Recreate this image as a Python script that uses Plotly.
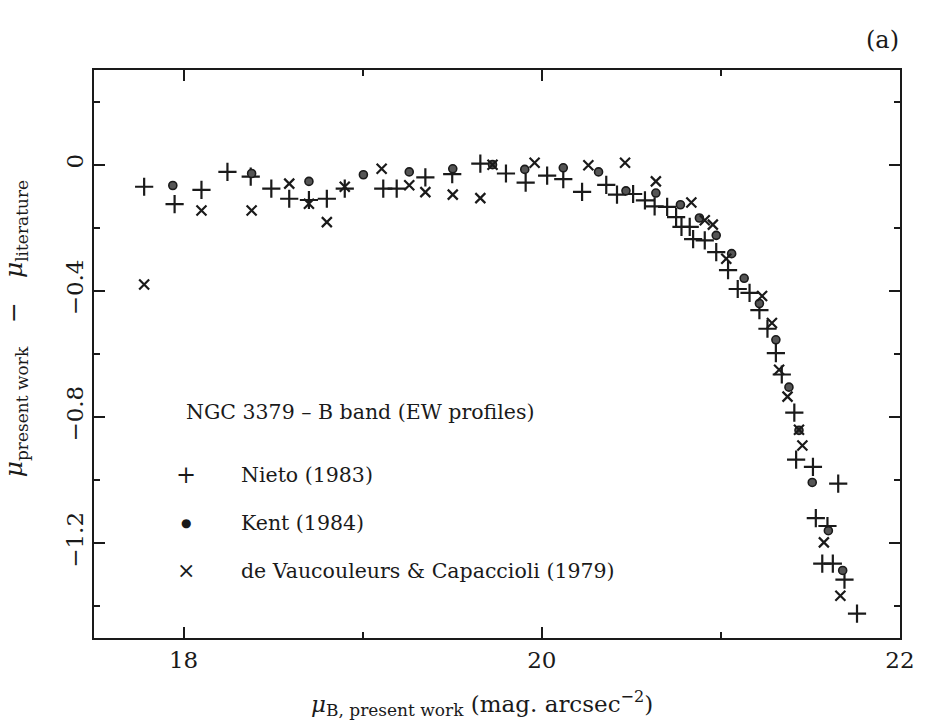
import plotly.graph_objects as go

# Nieto (1983)  "+"
nieto_x = [17.78, 17.95, 18.10, 18.245, 18.375, 18.49, 18.59, 18.70, 18.80, 18.90,
           19.115, 19.19, 19.35, 19.50, 19.657, 19.80, 19.91, 20.03, 20.12, 20.225,
           20.36, 20.42, 20.51, 20.576, 20.63, 20.70, 20.75, 20.78, 20.826, 20.845,
           20.91, 20.974, 21.04, 21.094, 21.16, 21.215, 21.26, 21.307, 21.34, 21.41,
           21.42, 21.514, 21.655, 21.53, 21.595, 21.566, 21.625, 21.69, 21.76]
nieto_y = [-0.07, -0.125, -0.08, -0.023, -0.038, -0.076, -0.108, -0.112, -0.108, -0.076,
           -0.076, -0.076, -0.04, -0.03, 0.003, -0.028, -0.057, -0.035, -0.046, -0.086,
           -0.064, -0.095, -0.093, -0.113, -0.132, -0.134, -0.166, -0.197, -0.197, -0.236,
           -0.24, -0.277, -0.334, -0.394, -0.406, -0.461, -0.52, -0.597, -0.665, -0.786,
           -0.935, -0.958, -1.011, -1.12, -1.145, -1.264, -1.264, -1.315, -1.423]

# Kent (1984)  filled circle
kent_x = [17.94, 18.38, 18.70, 19.004, 19.26, 19.503, 19.725, 19.905, 20.12, 20.317,
          20.47, 20.637, 20.774, 20.88, 20.974, 21.06, 21.13, 21.215, 21.307, 21.38,
          21.436, 21.51, 21.60, 21.68]
kent_y = [-0.066, -0.028, -0.053, -0.032, -0.023, -0.013, 0.0, -0.015, -0.01, -0.023,
          -0.083, -0.09, -0.127, -0.169, -0.224, -0.282, -0.36, -0.44, -0.555, -0.705,
          -0.842, -1.007, -1.16, -1.286]

# de Vaucouleurs & Capaccioli (1979)  "x"
dvc_x = [17.78, 18.10, 18.38, 18.59, 18.70, 18.80, 18.90, 19.106, 19.26, 19.35,
         19.503, 19.657, 19.725, 19.96, 20.26, 20.465, 20.637, 20.835, 20.91, 20.955,
         21.03, 21.23, 21.285, 21.325, 21.372, 21.436, 21.455, 21.575, 21.667]
dvc_y = [-0.38, -0.145, -0.145, -0.06, -0.124, -0.182, -0.07, -0.013, -0.065, -0.087,
         -0.095, -0.106, 0.0, 0.006, -0.002, 0.006, -0.053, -0.12, -0.176, -0.19,
         -0.298, -0.416, -0.502, -0.65, -0.735, -0.84, -0.89, -1.197, -1.366]

legend_labels = ["Nieto (1983)", "Kent (1984)", "de Vaucouleurs & Capaccioli (1979)"]
legend_symbols = ["+", "\u25CF", "\u00D7"]

INK = "#1a1a1a"
FONT = "DejaVu Serif"

fig = go.Figure()
fig.add_trace(go.Scatter(x=nieto_x, y=nieto_y, mode="markers", name=legend_labels[0],
                         marker=dict(symbol="cross-thin-open", size=13,
                                     line=dict(width=2.2, color=INK), color=INK)))
fig.add_trace(go.Scatter(x=kent_x, y=kent_y, mode="markers", name=legend_labels[1],
                         marker=dict(symbol="circle", size=8, color="#555",
                                     line=dict(width=1.6, color=INK))))
fig.add_trace(go.Scatter(x=dvc_x, y=dvc_y, mode="markers", name=legend_labels[2],
                         marker=dict(symbol="x-thin-open", size=10,
                                     line=dict(width=2.2, color=INK), color=INK)))

axis_common = dict(showline=True, linecolor=INK, linewidth=2.2, mirror="ticks",
                   ticks="inside", ticklen=11, tickwidth=2, tickcolor=INK,
                   showgrid=False, zeroline=False,
                   tickfont=dict(family=FONT, size=23, color=INK))

fig.update_xaxes(range=[17.5, 22], tick0=18, dtick=2,
                 minor=dict(dtick=1, ticklen=6, tickwidth=2, tickcolor=INK, ticks="inside"),
                 **axis_common)
fig.update_yaxes(range=[-1.5, 0.3], tick0=0, dtick=0.4, tickangle=-90,
                 minor=dict(dtick=0.2, ticklen=6, tickwidth=2, tickcolor=INK, ticks="inside"),
                 **axis_common)

SUB = '<sub><span style="font-size:17px">{}</span></sub>'
annotations = [
    dict(text="(a)", x=0.978, y=1.053, xref="paper", yref="paper", showarrow=False,
         xanchor="center", yanchor="middle", font=dict(family=FONT, size=24, color=INK)),
    dict(text="NGC 3379 \u2013 B band (EW profiles)", x=0.112, y=0.398, xref="paper",
         yref="paper", xanchor="left", yanchor="middle", showarrow=False,
         font=dict(family=FONT, size=20.5, color=INK)),
    dict(text="<i>\u03bc</i>" + SUB.format("B, present work") +
              " (mag. arcsec<sup>\u22122</sup>)",
         x=0.482, y=-0.115, xref="paper", yref="paper", showarrow=False,
         xanchor="center", yanchor="middle", font=dict(family=FONT, size=23, color=INK)),
    dict(text="<i>\u03bc</i>" + SUB.format("present work") + "   \u2212   <i>\u03bc</i>" +
              SUB.format("literature"),
         x=-0.097, y=0.545, xref="paper", yref="paper", showarrow=False, textangle=-90,
         xanchor="center", yanchor="middle", font=dict(family=FONT, size=25, color=INK)),
]
rows_y = [0.287, 0.202, 0.118]
sym_sizes = [24, 12, 22]
for lab, sym, yy, ss in zip(legend_labels, legend_symbols, rows_y, sym_sizes):
    annotations.append(dict(text=sym, x=0.114, y=yy, xref="paper", yref="paper",
                            xanchor="center", yanchor="middle", showarrow=False,
                            font=dict(family=FONT, size=ss, color=INK)))
    annotations.append(dict(text=lab, x=0.18, y=yy, xref="paper", yref="paper",
                            xanchor="left", yanchor="middle", showarrow=False,
                            font=dict(family=FONT, size=20.5, color=INK)))

fig.update_layout(width=927, height=727, margin=dict(l=94, r=22, t=70, b=89),
                  paper_bgcolor="white", plot_bgcolor="white", showlegend=False,
                  annotations=annotations)

fig.write_html("out.html")
